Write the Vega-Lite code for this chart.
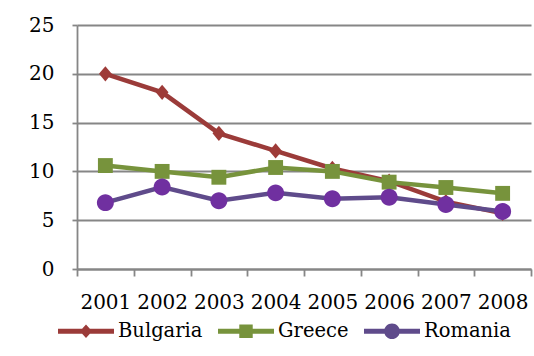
{
  "$schema": "https://vega.github.io/schema/vega-lite/v6.json",
  "width": 454,
  "height": 244,
  "autosize": {"type": "none"},
  "padding": {"left": 77, "top": 25, "right": 3, "bottom": 87},
  "background": "white",
  "config": {"view": {"stroke": null}, "font": "DejaVu Serif"},
  "data": {
    "values": [
      {"year": 2001, "country": "Bulgaria", "value": 20.0},
      {"year": 2002, "country": "Bulgaria", "value": 18.1},
      {"year": 2003, "country": "Bulgaria", "value": 13.9},
      {"year": 2004, "country": "Bulgaria", "value": 12.1},
      {"year": 2005, "country": "Bulgaria", "value": 10.3},
      {"year": 2006, "country": "Bulgaria", "value": 9.0},
      {"year": 2007, "country": "Bulgaria", "value": 6.9},
      {"year": 2008, "country": "Bulgaria", "value": 5.7},
      {"year": 2001, "country": "Greece", "value": 10.6},
      {"year": 2002, "country": "Greece", "value": 10.0},
      {"year": 2003, "country": "Greece", "value": 9.4},
      {"year": 2004, "country": "Greece", "value": 10.4},
      {"year": 2005, "country": "Greece", "value": 10.0},
      {"year": 2006, "country": "Greece", "value": 8.9},
      {"year": 2007, "country": "Greece", "value": 8.35},
      {"year": 2008, "country": "Greece", "value": 7.75},
      {"year": 2001, "country": "Romania", "value": 6.8},
      {"year": 2002, "country": "Romania", "value": 8.4},
      {"year": 2003, "country": "Romania", "value": 7.0},
      {"year": 2004, "country": "Romania", "value": 7.8},
      {"year": 2005, "country": "Romania", "value": 7.2},
      {"year": 2006, "country": "Romania", "value": 7.35},
      {"year": 2007, "country": "Romania", "value": 6.6},
      {"year": 2008, "country": "Romania", "value": 5.9}
    ]
  },
  "encoding": {
    "y": {
      "field": "value",
      "type": "quantitative",
      "scale": {"domain": [0, 25], "nice": false, "zero": true},
      "axis": {
        "values": [0, 5, 10, 15, 20, 25],
        "title": null,
        "grid": true,
        "gridColor": "#868686",
        "gridWidth": 1.8,
        "domainColor": "#868686",
        "domainWidth": 1.8,
        "tickColor": "#868686",
        "tickWidth": 1.8,
        "tickSize": 5,
        "labelFont": "DejaVu Serif",
        "labelFontSize": 20,
        "labelColor": "#000000",
        "labelPadding": 18
      }
    }
  },
  "layer": [
    {
      "mark": {"type": "line", "strokeWidth": 4.5},
      "encoding": {
        "x": {
          "field": "year",
          "type": "quantitative",
          "scale": {"domain": [2000.5, 2008.5], "nice": false, "zero": false},
          "axis": {
            "orient": "bottom",
            "title": null,
            "values": [2000.5, 2001.5, 2002.5, 2003.5, 2004.5, 2005.5, 2006.5, 2007.5, 2008.5],
            "labels": false,
            "grid": false,
            "ticks": true,
            "tickSize": 7,
            "tickColor": "#868686",
            "tickWidth": 1.8,
            "domainColor": "#868686",
            "domainWidth": 1.8
          }
        },
        "color": {
          "field": "country",
          "type": "nominal",
          "scale": {"domain": ["Bulgaria", "Greece", "Romania"], "range": ["#9B3B39", "#77933C", "#5F4B8B"]},
          "legend": null
        }
      }
    },
    {
      "mark": {"type": "point", "filled": true, "opacity": 1, "size": 256, "strokeWidth": 0},
      "encoding": {
        "x": {
          "field": "year",
          "type": "quantitative",
          "scale": {"domain": [2000.5, 2008.5], "nice": false, "zero": false},
          "axis": {
            "orient": "bottom",
            "title": null,
            "values": [2001, 2002, 2003, 2004, 2005, 2006, 2007, 2008],
            "format": "d",
            "grid": false,
            "ticks": false,
            "tickSize": 0,
            "domain": false,
            "labelFlush": false,
            "labelOverlap": false,
            "labelFont": "DejaVu Serif",
            "labelFontSize": 20,
            "labelColor": "#000000",
            "labelPadding": 23
          }
        },
        "color": {
          "field": "country",
          "type": "nominal",
          "scale": {"domain": ["Bulgaria", "Greece", "Romania"], "range": ["#9E3B38", "#77933C", "#7030A0"]},
          "legend": null
        },
        "shape": {
          "field": "country",
          "type": "nominal",
          "scale": {
            "domain": ["Bulgaria", "Greece", "Romania"],
            "range": [
              "M0,-0.95L0.8,0L0,0.95L-0.8,0Z",
              "M-0.93,-0.93H0.93V0.93H-0.93Z",
              "M-1.06,0A1.06,1.06,0,1,1,1.06,0A1.06,1.06,0,1,1,-1.06,0Z"
            ]
          },
          "legend": null
        }
      }
    },
    {
      "mark": {"type": "point", "filled": true, "opacity": 0, "size": 3136, "strokeWidth": 0},
      "encoding": {
        "x": {
          "field": "year",
          "type": "quantitative",
          "scale": {"domain": [2000.5, 2008.5], "nice": false, "zero": false},
          "axis": null
        },
        "color": {
          "field": "country",
          "type": "nominal",
          "scale": {"domain": ["Bulgaria", "Greece", "Romania"], "range": ["#9B3B39", "#77933C", "#5F4B8B"]},
          "legend": {
            "orient": "none",
            "legendX": -19,
            "legendY": 278,
            "direction": "horizontal",
            "title": null,
            "labelFont": "DejaVu Serif",
            "labelFontSize": 19.5,
            "labelColor": "#000000",
            "symbolSize": 3136,
            "symbolOpacity": 1,
            "symbolStrokeWidth": 0,
            "labelOffset": 4,
            "columnPadding": 15
          }
        },
        "shape": {
          "field": "country",
          "type": "nominal",
          "scale": {
            "domain": ["Bulgaria", "Greece", "Romania"],
            "range": [
              "M-1,-0.09H1V0.09H-1Z M0,-0.24L0.22,0L0,0.24L-0.22,0Z",
              "M-1,-0.09H1V0.09H-1Z M-0.24,-0.24H0.24V0.24H-0.24Z",
              "M-1,-0.09H1V0.09H-1Z M-0.28,0A0.28,0.28,0,1,1,0.28,0A0.28,0.28,0,1,1,-0.28,0Z"
            ]
          },
          "legend": {
            "orient": "none",
            "legendX": -19,
            "legendY": 278,
            "direction": "horizontal",
            "title": null,
            "labelFont": "DejaVu Serif",
            "labelFontSize": 19.5,
            "labelColor": "#000000",
            "symbolSize": 3136,
            "symbolOpacity": 1,
            "symbolStrokeWidth": 0,
            "labelOffset": 4,
            "columnPadding": 15
          }
        }
      }
    }
  ],
  "resolve": {
    "scale": {"color": "independent", "shape": "independent"},
    "axis": {"x": "independent"}
  }
}
